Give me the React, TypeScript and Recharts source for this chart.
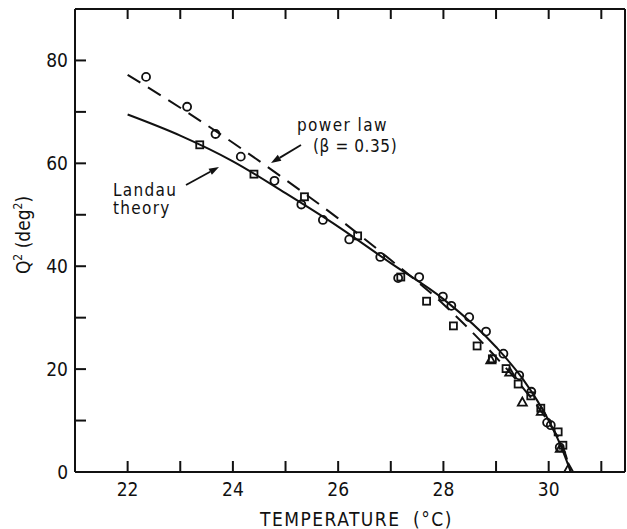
import React from "react";
import { ComposedChart, Line, Scatter, XAxis, YAxis } from "recharts";

// temperature (°C) vs Q^2 (deg^2)
const xTicks = [22, 23, 24, 25, 26, 27, 28, 29, 30, 31];
const yTicks = [0, 10, 20, 30, 40, 50, 60, 70, 80];

const circles = [
  { t: 22.35, q: 76.8 }, { t: 23.13, q: 71.0 }, { t: 23.67, q: 65.7 },
  { t: 24.15, q: 61.3 }, { t: 24.79, q: 56.6 }, { t: 25.3, q: 52.0 },
  { t: 25.71, q: 49.0 }, { t: 26.21, q: 45.2 }, { t: 26.8, q: 41.8 },
  { t: 27.14, q: 37.7 }, { t: 27.54, q: 37.9 }, { t: 27.99, q: 34.1 },
  { t: 28.15, q: 32.3 }, { t: 28.49, q: 30.1 }, { t: 28.81, q: 27.3 },
  { t: 29.14, q: 23.0 }, { t: 29.44, q: 18.8 }, { t: 29.67, q: 15.6 },
  { t: 29.97, q: 9.6 }, { t: 30.04, q: 9.1 }, { t: 30.21, q: 4.8 },
];

const squares = [
  { t: 23.37, q: 63.6 }, { t: 24.4, q: 57.9 }, { t: 25.36, q: 53.5 },
  { t: 26.37, q: 45.9 }, { t: 27.19, q: 37.9 }, { t: 27.68, q: 33.2 },
  { t: 28.19, q: 28.4 }, { t: 28.64, q: 24.5 }, { t: 28.93, q: 22.0 },
  { t: 29.19, q: 20.1 }, { t: 29.42, q: 17.1 }, { t: 29.66, q: 14.8 },
  { t: 29.85, q: 12.4 }, { t: 30.18, q: 7.8 }, { t: 30.27, q: 5.2 },
];

const triangles = [
  { t: 28.9, q: 21.8 }, { t: 29.26, q: 19.4 }, { t: 29.5, q: 13.6 },
  { t: 29.86, q: 11.8 }, { t: 30.22, q: 4.6 }, { t: 30.38, q: 0.7 },
];

const landau = [
  { t: 22.0, q: 69.5 }, { t: 23.0, q: 65.4 }, { t: 24.0, q: 60.4 },
  { t: 25.0, q: 54.2 }, { t: 26.0, q: 47.7 }, { t: 27.0, q: 40.6 },
  { t: 28.0, q: 33.6 }, { t: 29.0, q: 24.3 }, { t: 29.5, q: 18.2 },
  { t: 30.0, q: 10.0 }, { t: 30.2, q: 5.8 }, { t: 30.42, q: 0 },
];

const powerLaw = [
  { t: 22.0, q: 77.2 }, { t: 23.0, q: 70.8 }, { t: 24.0, q: 64.0 },
  { t: 25.0, q: 56.8 }, { t: 26.0, q: 49.3 }, { t: 27.0, q: 41.2 },
  { t: 28.0, q: 32.6 }, { t: 29.0, q: 22.3 }, { t: 29.5, q: 16.5 },
  { t: 30.0, q: 9.6 }, { t: 30.3, q: 4.0 }, { t: 30.42, q: 0 },
];

const FONT = '"DejaVu Sans Condensed", "DejaVu Sans", sans-serif';
const INK = "#111";

function BottomTick({ x, y, payload }: any) {
  return (
    <g>
      <line x1={x} y1={y} x2={x} y2={y - 11} stroke={INK} strokeWidth={2} />
      {payload.value % 2 === 0 && (
        <text x={x} y={y + 24} textAnchor="middle" fontSize={19} fontFamily={FONT} fill={INK}>
          {payload.value}
        </text>
      )}
    </g>
  );
}

function TopTick({ x, y }: any) {
  return <line x1={x} y1={y} x2={x} y2={y + 10} stroke={INK} strokeWidth={2} />;
}

function LeftTick({ x, y, payload }: any) {
  return (
    <g>
      <line x1={x} y1={y} x2={x + 11} y2={y} stroke={INK} strokeWidth={2} />
      {payload.value % 20 === 0 && (
        <text x={x - 7} y={y} dy="0.36em" textAnchor="end" fontSize={19} fontFamily={FONT} fill={INK}>
          {payload.value}
        </text>
      )}
    </g>
  );
}

function RightTick({ x, y }: any) {
  return <line x1={x} y1={y} x2={x - 11} y2={y} stroke={INK} strokeWidth={2} />;
}

const Circle = ({ cx, cy }: any) => (
  <circle cx={cx} cy={cy} r={4} fill="none" stroke={INK} strokeWidth={1.8} />
);
const Square = ({ cx, cy }: any) => (
  <rect x={cx - 3.5} y={cy - 3.5} width={7} height={7} fill="none" stroke={INK} strokeWidth={1.8} />
);
const Triangle = ({ cx, cy }: any) => (
  <polygon
    points={`${cx},${cy - 4.5} ${cx - 4.5},${cy + 3.5} ${cx + 4.5},${cy + 3.5}`}
    fill="none"
    stroke={INK}
    strokeWidth={1.8}
  />
);

function Arrow({ x1, y1, x2, y2 }: { x1: number; y1: number; x2: number; y2: number }) {
  const a = Math.atan2(y2 - y1, x2 - x1);
  const len = 10;
  const w = 3.5;
  const bx = x2 - len * Math.cos(a);
  const by = y2 - len * Math.sin(a);
  const px = -Math.sin(a) * w;
  const py = Math.cos(a) * w;
  return (
    <g>
      <line x1={x1} y1={y1} x2={bx} y2={by} stroke={INK} strokeWidth={1.8} />
      <polygon points={`${x2},${y2} ${bx + px},${by + py} ${bx - px},${by - py}`} fill={INK} />
    </g>
  );
}

export default function App() {
  return (
    <div style={{ position: "absolute", left: 0, top: 0, background: "#fff" }}>
      <ComposedChart width={627} height={529} margin={{ top: 0, right: 0, bottom: 0, left: 0 }}>
        <XAxis
          dataKey="t"
          type="number"
          domain={[21, 31.45]}
          ticks={xTicks}
          interval={0}
          allowDataOverflow
          height={57}
          tickSize={0}
          tickMargin={0}
          tick={<BottomTick />}
          axisLine={{ stroke: INK, strokeWidth: 2 }}
        />
        <XAxis
          xAxisId="top"
          orientation="top"
          dataKey="t"
          type="number"
          domain={[21, 31.45]}
          ticks={xTicks}
          interval={0}
          allowDataOverflow
          height={9}
          tickSize={0}
          tickMargin={0}
          tick={<TopTick />}
          axisLine={{ stroke: INK, strokeWidth: 2 }}
        />
        <YAxis
          dataKey="q"
          type="number"
          domain={[0, 90]}
          ticks={yTicks}
          interval={0}
          allowDataOverflow
          width={75}
          tickSize={0}
          tickMargin={0}
          tick={<LeftTick />}
          axisLine={{ stroke: INK, strokeWidth: 2 }}
        />
        <YAxis
          yAxisId="right"
          orientation="right"
          type="number"
          domain={[0, 90]}
          ticks={yTicks}
          interval={0}
          width={2}
          tickSize={0}
          tickMargin={0}
          tick={<RightTick />}
          axisLine={{ stroke: INK, strokeWidth: 2 }}
        />

        <Line data={landau} dataKey="q" type="monotone" stroke={INK} strokeWidth={2} dot={false} isAnimationActive={false} />
        <Line
          data={powerLaw}
          dataKey="q"
          type="monotone"
          stroke={INK}
          strokeWidth={2}
          strokeDasharray="15 9"
          dot={false}
          isAnimationActive={false}
        />
        <Scatter data={circles} dataKey="q" shape={<Circle />} isAnimationActive={false} />
        <Scatter data={squares} dataKey="q" shape={<Square />} isAnimationActive={false} />
        <Scatter data={triangles} dataKey="q" shape={<Triangle />} isAnimationActive={false} />

        {/* annotations */}
        <text x={297} y={131} fontSize={17} fontFamily={FONT} fill={INK} letterSpacing={1.4}>
          power law
        </text>
        <text x={313} y={152} fontSize={17} fontFamily={FONT} fill={INK} letterSpacing={0.6}>
          (β = 0.35)
        </text>
        <Arrow x1={301} y1={145} x2={271} y2={163} />
        <text x={113} y={196} fontSize={17} fontFamily={FONT} fill={INK} letterSpacing={1.3}>
          Landau
        </text>
        <text x={113} y={214} fontSize={17} fontFamily={FONT} fill={INK} letterSpacing={1.3}>
          theory
        </text>
        <Arrow x1={186} y1={185} x2={219} y2={167} />

        <text
          x={30}
          y={235}
          transform="rotate(-90 30 235)"
          textAnchor="middle"
          fontSize={19}
          fontFamily={FONT}
          fill={INK}
        >
          Q<tspan fontSize={12} dy={-8}>2</tspan>
          <tspan dy={8}> (deg</tspan>
          <tspan fontSize={12} dy={-8}>2</tspan>
          <tspan dy={8}>)</tspan>
        </text>
        <text x={260} y={526} fontSize={19} fontFamily={FONT} fill={INK} letterSpacing={1.5}>
          TEMPERATURE
        </text>
        <text x={413} y={526} fontSize={19} fontFamily={FONT} fill={INK} letterSpacing={1.5}>
          (°C)
        </text>
      </ComposedChart>
    </div>
  );
}
